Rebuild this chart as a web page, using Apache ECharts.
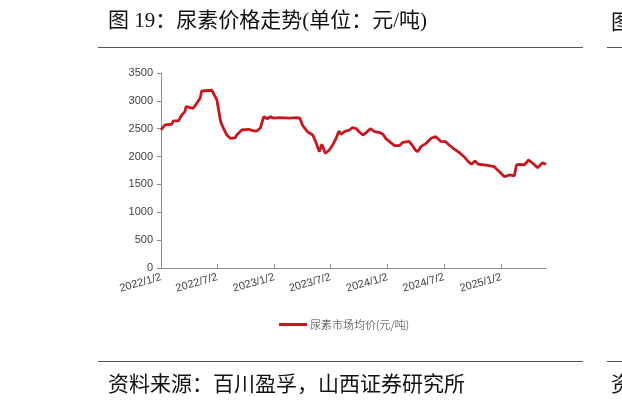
<!DOCTYPE html>
<html>
<head>
<meta charset="utf-8">
<script src="https://cdn.jsdelivr.net/npm/echarts@6/dist/echarts.min.js"></script>
<style>
html,body{margin:0;padding:0;background:#fff;}
#chart{width:622px;height:406px;}
</style>
</head>
<body>
<div id="chart"></div>
<script>
const titleText = '图 19：尿素价格走势(单位：元/吨)';
const sourceText = '资料来源：百川盈孚，山西证券研究所';
const seriesName = '尿素市场均价(元/吨)';
const tickLabels = ['2022/1/2','2022/7/2','2023/1/2','2023/7/2','2024/1/2','2024/7/2','2025/1/2'];
const axisStart = '2022-01-02';
const axisEnd = '2025-05-26';
const dates = [
 '2022-01-02','2022-01-15','2022-02-05','2022-02-11','2022-02-27','2022-03-04','2022-03-10','2022-03-20','2022-03-24',
 '2022-04-16','2022-04-27','2022-05-08','2022-05-13','2022-06-15','2022-07-01','2022-07-12','2022-07-17','2022-07-22',
 '2022-08-02','2022-08-13','2022-08-29','2022-09-03','2022-09-19','2022-10-11','2022-10-16','2022-10-27','2022-11-07',
 '2022-11-18','2022-11-29','2022-12-10','2022-12-21','2022-12-31','2023-01-21','2023-02-21','2023-03-15','2023-03-25',
 '2023-04-04','2023-04-20','2023-05-06','2023-05-17','2023-05-27','2023-06-04','2023-06-15','2023-06-28','2023-07-09',
 '2023-07-20','2023-07-29','2023-08-05','2023-08-16','2023-09-01','2023-09-10','2023-09-23','2023-10-03','2023-10-14',
 '2023-10-25','2023-11-07','2023-11-21','2023-12-07','2023-12-18','2023-12-28','2024-01-08','2024-01-24','2024-02-09',
 '2024-02-20','2024-03-10','2024-03-21','2024-03-31','2024-04-08','2024-04-18','2024-05-05','2024-05-21','2024-06-05',
 '2024-06-21','2024-07-07','2024-07-18','2024-08-03','2024-08-19','2024-09-04','2024-09-20','2024-09-28','2024-10-09',
 '2024-10-20','2024-11-07','2024-11-23','2024-12-10','2024-12-21','2025-01-01','2025-01-12','2025-01-28','2025-02-13',
 '2025-02-20','2025-03-03','2025-03-17','2025-03-31','2025-04-13','2025-04-29','2025-05-15','2025-05-26'
];
const prices = [
 2477,2567,2580,2640,2640,2610,2746,2806,2895,
 2866,2956,3046,3177,3190,3016,2657,2567,2550,
 2387,2328,2334,2387,2477,2490,2500,2460,2460,
 2513,2716,2680,2716,2690,2700,2690,2700,2690,
 2550,2440,2387,2238,2088,2220,2058,2118,2208,
 2328,2459,2400,2447,2477,2518,2500,2440,2387,
 2430,2500,2447,2430,2400,2316,2268,2196,2196,
 2256,2274,2208,2118,2088,2178,2238,2328,2357,
 2274,2268,2208,2136,2076,1998,1897,1862,1920,
 1862,1849,1837,1819,1759,1700,1640,1670,1655,
 1849,1862,1849,1939,1880,1801,1890,1862
];

const chart = echarts.init(document.getElementById('chart'), null, {renderer:'canvas'});
const toTs = (s, sep) => { const p = s.split(sep); return Date.UTC(+p[0], +p[1]-1, +p[2]); };
const tickValues = tickLabels.map(t => toTs(t,'/'));
const fmt = v => { const d = new Date(v); return d.getUTCFullYear()+'/'+(d.getUTCMonth()+1)+'/'+d.getUTCDate(); };
const cjkSerif = '"Liberation Serif","Noto Sans CJK SC",serif';
const cjk = '"Noto Sans CJK SC",sans-serif';
const latin = '"Liberation Sans",Arial,sans-serif';

chart.setOption({
  animation:false,
  backgroundColor:'#fff',
  grid:{left:161,right:76,top:73,bottom:138,containLabel:false},
  legend:{
    show:true, top:314, left:274,
    itemWidth:28, itemHeight:3, itemGap:3,
    icon:'rect',
    textStyle:{fontSize:11,color:'#333',fontFamily:cjk,fontWeight:300,padding:[0,0,0,-2]},
    data:[seriesName]
  },
  xAxis:{
    type:'value',
    min:toTs(axisStart,'-'), max:toTs(axisEnd,'-'),
    splitLine:{show:false},
    axisLine:{show:true,lineStyle:{color:'#8c8c8c',width:1}},
    axisTick:{show:true,inside:true,length:4,customValues:tickValues,lineStyle:{color:'#8c8c8c'}},
    axisLabel:{customValues:tickValues,formatter:v=>fmt(v),rotate:16,margin:9,
      fontSize:11,color:'#404040',fontFamily:latin}
  },
  yAxis:{
    type:'value', min:0, max:3500, interval:500,
    splitLine:{show:false},
    axisLine:{show:true,lineStyle:{color:'#8c8c8c',width:1}},
    axisTick:{show:true,length:4,lineStyle:{color:'#8c8c8c'}},
    axisLabel:{fontSize:11,color:'#404040',margin:8,fontFamily:latin,formatter:v=>String(v)}
  },
  series:[{
    name:seriesName,
    type:'line',
    data:dates.map((d,i)=>[toTs(d,'-'),prices[i]]),
    showSymbol:false,
    symbol:'none',
    lineStyle:{color:'#C8161E',width:2.8},
    itemStyle:{color:'#C8161E'}
  }],
  graphic:[
    {type:'text',left:108,top:11,style:{text:titleText,font:'21px '+cjkSerif,fill:'#111'}},
    {type:'text',left:611,top:11,style:{text:'图',font:'21px '+cjk,fill:'#111'}},
    {type:'line',shape:{x1:98,y1:47.5,x2:583,y2:47.5},style:{stroke:'#555',lineWidth:1}},
    {type:'line',shape:{x1:607,y1:47.5,x2:622,y2:47.5},style:{stroke:'#555',lineWidth:1}},
    {type:'line',shape:{x1:98,y1:361.5,x2:583,y2:361.5},style:{stroke:'#555',lineWidth:1}},
    {type:'line',shape:{x1:607,y1:361.5,x2:622,y2:361.5},style:{stroke:'#555',lineWidth:1}},
    {type:'text',left:108,top:373,style:{text:sourceText,font:'21px '+cjk,fill:'#111'}},
    {type:'text',left:611,top:373,style:{text:'资',font:'21px '+cjk,fill:'#111'}}
  ]
});
</script>
</body>
</html>
